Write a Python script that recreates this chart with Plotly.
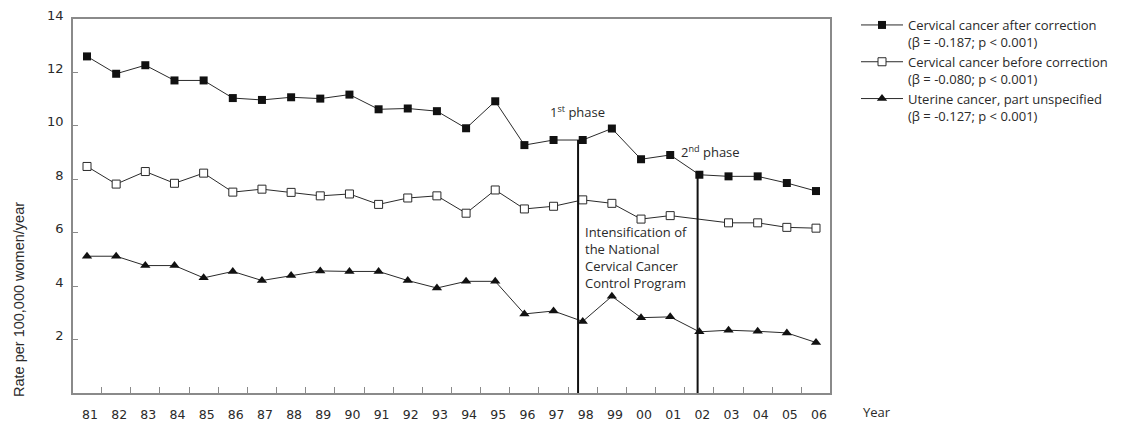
import plotly.graph_objects as go

years = ["81","82","83","84","85","86","87","88","89","90","91","92","93","94","95","96","97","98","99","00","01","02","03","04","05","06"]
after_corr = [12.6,11.95,12.27,11.7,11.7,11.04,10.97,11.07,11.02,11.17,10.62,10.65,10.55,9.91,10.92,9.28,9.47,9.47,9.9,8.75,8.91,8.17,8.11,8.11,7.86,7.56]
before_corr = [8.48,7.82,8.29,7.85,8.23,7.52,7.63,7.51,7.38,7.45,7.06,7.3,7.38,6.73,7.6,6.89,6.99,7.23,7.1,6.51,6.64,None,6.37,6.37,6.2,6.17]
uterine = [5.12,5.12,4.77,4.77,4.31,4.55,4.21,4.4,4.57,4.55,4.55,4.21,3.93,4.18,4.18,2.96,3.07,2.68,3.62,2.82,2.85,2.29,2.35,2.31,2.25,1.89]
names = ["Cervical cancer after correction<br>(β = -0.187; p < 0.001)",
         "Cervical cancer before correction<br>(β = -0.080; p < 0.001)",
         "Uterine cancer, part unspecified<br>(β = -0.127; p < 0.001)"]
phase_years = ["98", "02"]
phase_offsets = [-0.16, -0.06]

TXT = "Open Sans"
TICK = "DejaVu Sans"
DARK = "#2a2a2a"
FRAME = "#8a8a8a"
xs = list(range(len(years)))

fig = go.Figure()
fig.add_trace(go.Scatter(x=xs, y=after_corr, mode="lines+markers", name=names[0], legendgroup="a",
                         line=dict(color=DARK, width=1),
                         marker=dict(symbol="square", size=8, color="#111")))
fig.add_trace(go.Scatter(x=xs, y=before_corr, mode="lines+markers", name=names[1], legendgroup="b",
                         connectgaps=True, line=dict(color=DARK, width=1),
                         marker=dict(symbol="square", size=8, color="white", line=dict(color=DARK, width=1))))
fig.add_trace(go.Scatter(x=xs, y=uterine, mode="lines+markers", name=names[2], legendgroup="c",
                         line=dict(color=DARK, width=1),
                         marker=dict(symbol="triangle-up", size=9, color="#111")))

for py, off in zip(phase_years, phase_offsets):
    i = years.index(py)
    fig.add_shape(type="line", x0=i + off, x1=i + off, y0=0, y1=after_corr[i],
                  xref="x", yref="y", line=dict(color="#111", width=2))

fig.add_annotation(x=years.index("98") - 1.2, y=10.55, xref="x", yref="y", xanchor="left", yanchor="middle",
                   text="1<sup>st</sup> phase", showarrow=False, font=dict(family=TXT, size=13, color=DARK))
fig.add_annotation(x=years.index("02") - 0.7, y=9.05, xref="x", yref="y", xanchor="left", yanchor="middle",
                   text="2<sup>nd</sup> phase", showarrow=False, font=dict(family=TXT, size=13, color=DARK))
fig.add_annotation(x=years.index("98") + 0.0, y=6.44, xref="x", yref="y", xanchor="left", yanchor="top",
                   align="left", showarrow=False,
                   text="Intensification of<br>the National<br>Cervical Cancer<br>Control Program",
                   font=dict(family=TXT, size=13, color=DARK))
fig.add_annotation(x=(877 - 73) / 757, y=-(412 - 393) / 374, xref="paper", yref="paper",
                   xanchor="center", yanchor="middle",
                   text="Year", showarrow=False, font=dict(family=TXT, size=13, color=DARK))
fig.add_annotation(x=(19 - 73) / 757, y=(393 - 300) / 374, xref="paper", yref="paper",
                   xanchor="center", yanchor="middle",
                   text="Rate per 100,000 women/year", textangle=-90, showarrow=False,
                   font=dict(family="Liberation Sans", size=14.5, color=DARK))

fig.update_xaxes(range=[-0.48, len(years) - 0.52], tickvals=xs, ticktext=years, ticks="",
                 showline=True, linecolor=FRAME, linewidth=1.5, mirror=True, showgrid=False, zeroline=False,
                 tickfont=dict(family=TICK, size=12.5, color=DARK), ticklabelstandoff=9, ticklabelshift=3,
                 minor=dict(tickvals=[i + 0.5 for i in xs[:-1]], ticks="inside", ticklen=6,
                            tickcolor=FRAME, tickwidth=1.2, showgrid=False))
fig.update_yaxes(range=[0, 14], tickvals=[2, 4, 6, 8, 10, 12, 14], ticks="inside", ticklen=5,
                 tickcolor=FRAME, tickwidth=1.2,
                 showline=True, linecolor=FRAME, linewidth=1.5, mirror=True, showgrid=False, zeroline=False,
                 tickfont=dict(family=TICK, size=13, color=DARK), ticklabelstandoff=5, ticklabelshift=-4)

fig.update_layout(width=1126, height=423, margin=dict(l=73, r=296, t=19, b=30, autoexpand=False),
                  plot_bgcolor="white", paper_bgcolor="white",
                  font=dict(family=TXT, size=13, color=DARK),
                  legend=dict(x=(856 - 73) / 757, y=1.0 + 9 / 374, xanchor="left", yanchor="top", valign="top",
                              font=dict(family=TXT, size=13, color=DARK), itemwidth=42,
                              bgcolor="rgba(0,0,0,0)", tracegroupgap=0))

fig.write_html("out.html", config={"displayModeBar": False},
               post_script="document.body.style.margin='0';document.body.style.overflow='hidden';")
